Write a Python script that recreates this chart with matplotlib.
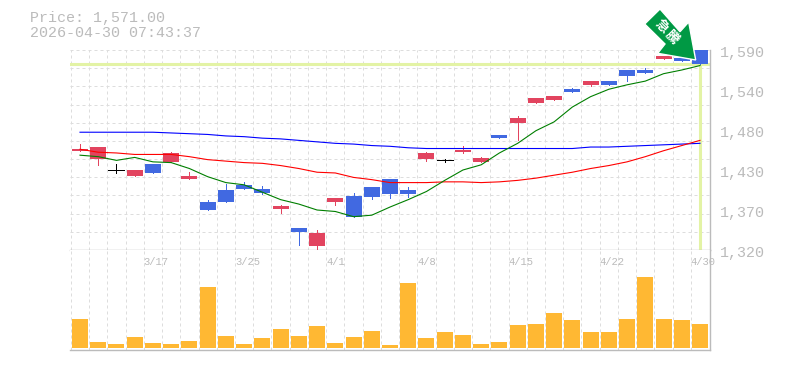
import numpy as np
import matplotlib
matplotlib.use("Agg")
from matplotlib import pyplot as plt
from matplotlib.patches import Polygon

# daily candles
opens = [1454, 1443, 1428, 1420, 1436, 1439, 1416, 1385, 1401, 1408, 1402, 1375, 1350, 1325, 1385, 1393, 1405, 1416,
         1401, 1443, 1441, 1452, 1439, 1475, 1491, 1518, 1523, 1537, 1543, 1548, 1563, 1563, 1578, 1579, 1590]
highs = [1463, 1459, 1436, 1428, 1436, 1452, 1425, 1388, 1409, 1412, 1406, 1381, 1350, 1347, 1390, 1397, 1405, 1416,
         1405, 1452, 1443, 1460, 1446, 1475, 1501, 1525, 1528, 1539, 1548, 1548, 1563, 1566, 1582, 1579, 1590]
lows = [1454, 1435, 1424, 1420, 1424, 1439, 1416, 1374, 1385, 1402, 1396, 1370, 1327, 1320, 1381, 1365, 1389, 1390,
        1392, 1440, 1439, 1451, 1439, 1471, 1468, 1518, 1523, 1533, 1541, 1543, 1548, 1559, 1578, 1575, 1571]
closes = [1456, 1459, 1428, 1428, 1424, 1451, 1420, 1374, 1385, 1402, 1397, 1379, 1344, 1343, 1390, 1365, 1392, 1396,
          1396, 1451, 1441, 1455, 1444, 1471, 1498, 1525, 1528, 1533, 1548, 1543, 1555, 1559, 1582, 1575, 1571]

# moving averages
ma_short = [1448, 1446, 1441, 1445, 1439, 1438, 1430, 1419, 1411, 1408, 1398, 1388, 1382, 1374, 1372, 1365, 1367, 1378,
            1388, 1399, 1414, 1428, 1435, 1451, 1464, 1481, 1493, 1513, 1527, 1537, 1543, 1548, 1558, 1563, 1569]
ma_mid = [1456, 1452, 1451, 1449, 1449, 1449, 1446, 1442, 1440, 1438, 1437, 1434, 1430, 1425, 1424, 1418, 1415, 1411,
          1411, 1411, 1412, 1412, 1411, 1412, 1414, 1417, 1421, 1425, 1430, 1434, 1439, 1446, 1454, 1461, 1468]
ma_long = [1479, 1479, 1479, 1479, 1479, 1478, 1477, 1476, 1474, 1473, 1471, 1470, 1468, 1466, 1464, 1463, 1461, 1460,
           1458, 1457, 1457, 1457, 1457, 1457, 1457, 1457, 1457, 1457, 1459, 1459, 1460, 1461, 1462, 1463, 1464]

volume = [29, 6, 4, 11, 5, 4, 7, 61, 12, 4, 10, 19, 12, 22, 5, 11, 17, 3,
          65, 10, 16, 13, 4, 6, 23, 24, 35, 28, 16, 16, 29, 71, 29, 28, 24]

date_idx = [4, 9, 14, 19, 24, 29, 34]
date_labels = ["3/17", "3/25", "4/1", "4/8", "4/15", "4/22", "4/30"]
price_ticks = [1590, 1536, 1482, 1428, 1374, 1320]
price_labels = ["1,590", "1,540", "1,480", "1,430", "1,370", "1,320"]
last_price = 1571

GREY = "#bbbbbb"
GRID = "#dddddd"
RED = "#e2445f"
BLUE = "#4169e1"
PALE = "#e3f3a5"
W, H = 785, 370
MONO = "Liberation Mono"

fig = plt.figure(figsize=(W / 100, H / 100), dpi=100)
ax = fig.add_axes([70 / W, 1 - 250 / H, 640 / W, 200 / H])
ax_v = fig.add_axes([70 / W, 1 - 350 / H, 640 / W, 100 / H])

x = np.arange(len(closes))
xlim = (-10 / 18.235, 34 + 10 / 18.235)
grid_x = x - 0.5

for a in (ax, ax_v):
    a.set_xlim(xlim)
    a.set_xticks([])
    a.set_yticks([])
    a.vlines(grid_x, 0, 1, transform=a.get_xaxis_transform(), color=GRID, lw=0.72,
             linestyle=(0, (3, 3)), zorder=1)
    for side in ("left", "top"):
        a.spines[side].set_visible(False)
    for side in ("right", "bottom"):
        a.spines[side].set_color(GREY)
        a.spines[side].set_linewidth(1.0)

# price panel
ax.set_ylim(1320, 1590)
ax.hlines(np.linspace(1320, 1590, 12), xlim[0], xlim[1], color=GRID, lw=0.72, linestyle=(0, (3, 3)), zorder=1)
ax.axhline(last_price, color=PALE, lw=2.2, zorder=2)
ax.vlines(x[-1], 1320, last_price, color=PALE, lw=2.2, zorder=2)

for i in x:
    if closes[i] == opens[i]:
        col = "black"
    else:
        col = RED if closes[i] > opens[i] else BLUE
    ax.vlines(i, lows[i], highs[i], color=col, lw=0.72, zorder=3, antialiased=False)
    if closes[i] == opens[i]:
        ax.hlines(closes[i], i - 0.44, i + 0.44, color=col, lw=0.72, zorder=3, antialiased=False)
    else:
        ax.bar(i, abs(closes[i] - opens[i]), 0.88, bottom=min(opens[i], closes[i]), color=col, lw=0, zorder=3)

ax.plot(x, ma_long, color="#0000ff", lw=0.8, zorder=4)
ax.plot(x, ma_mid, color="#ff0000", lw=0.8, zorder=4)
ax.plot(x, ma_short, color="#007f00", lw=0.8, zorder=4)

for tick, label in zip(price_ticks, price_labels):
    ax.annotate(label, (1, tick), xycoords=ax.get_yaxis_transform(), xytext=(10, -3), textcoords="offset pixels",
                ha="left", va="center", family=MONO, fontsize=10.8, color=GREY, annotation_clip=False)

# volume panel
ax_v.set_ylim(-2, 98)
ax_v.bar(x, volume, 0.88, color="#ffb833", lw=0, zorder=3)
for i, label in zip(date_idx, date_labels):
    ax_v.annotate(label, (i - 0.5, 1), xycoords=ax_v.get_xaxis_transform(), xytext=(0, -12), textcoords="offset pixels",
                  ha="left", va="center", family=MONO, fontsize=7.6, color=GREY, annotation_clip=False, zorder=5)

fig.text(30 / W, 1 - 18 / H, "Price: 1,571.00", family=MONO, fontsize=10.8, color=GREY, va="center")
fig.text(30 / W, 1 - 33 / H, "2026-04-30 07:43:37", family=MONO, fontsize=10.8, color=GREY, va="center")

# green arrow badge
arrow_px = np.array([(660, 9), (644.7, 24), (665, 44), (657.7, 53.3), (695.7, 60), (688.7, 22), (680, 31.7)])
arrow_fig = np.column_stack([arrow_px[:, 0] / W, 1 - arrow_px[:, 1] / H])
fig.add_artist(Polygon(arrow_fig, closed=True, transform=fig.transFigure, facecolor="#009944",
                       edgecolor="white", lw=1.0, zorder=10))
fig.text(661.7 / W, 1 - 26 / H, "急", family=["Noto Sans CJK JP", "DejaVu Sans"], fontsize=9.5, color="white", weight="bold",
         rotation=-45, ha="center", va="center", zorder=11)
fig.text(672.3 / W, 1 - 36.7 / H, "騰", family=["Noto Sans CJK JP", "DejaVu Sans"], fontsize=9.5, color="white", weight="bold",
         rotation=-45, ha="center", va="center", zorder=11)

fig.savefig("out.png", dpi=100)
